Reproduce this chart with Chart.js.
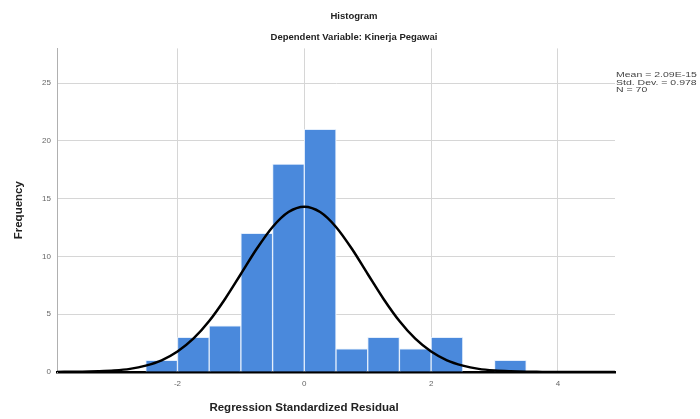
<!DOCTYPE html>
<html><head><meta charset="utf-8">
<script src="https://cdn.jsdelivr.net/npm/chart.js@4"></script>
<style>html,body{margin:0;padding:0;background:#fff;overflow:hidden}</style>
</head><body>
<canvas id="c" width="700" height="419"></canvas>
<script>
// Histogram bins (width 0.5)
const binCenters = [-2.25, -1.75, -1.25, -0.75, -0.25, 0.25, 0.75, 1.25, 1.75, 2.25, 2.75, 3.25];
const frequencies = [1, 3, 4, 12, 18, 21, 2, 3, 2, 3, 0, 1];
// Normal curve
const curveX = [-3.9, -3.5, -3.25, -3, -2.75, -2.5, -2.25, -2, -1.75, -1.5, -1.25, -1, -0.75, -0.5, -0.25, 0, 0.25, 0.5, 0.75, 1, 1.25, 1.5, 1.75, 2, 2.25, 2.5, 2.75, 3, 3.25, 3.5, 3.75, 4, 4.5, 4.9];
const curveY = [0.01, 0.02, 0.06, 0.13, 0.27, 0.55, 1.01, 1.77, 2.88, 4.41, 6.32, 8.48, 10.66, 12.55, 13.84, 14.3, 13.84, 12.55, 10.66, 8.48, 6.32, 4.41, 2.88, 1.77, 1.01, 0.55, 0.27, 0.13, 0.06, 0.02, 0.01, 0, 0, 0];
const xTicks = [-2, 0, 2, 4];
const yTicks = [0, 5, 10, 15, 20, 25];
const xTitle = "Regression Standardized Residual";
const statsLines = ["Mean = 2.09E-15", "Std. Dev. = 0.978", "N = 70"];

const FONT = "'Liberation Sans', Arial, sans-serif";
Chart.defaults.font.family = FONT;

const textPlugin = {
  id: 'texts',
  afterDraw(chart) {
    const ctx = chart.ctx;
    ctx.save();
    // x-axis title
    ctx.font = "bold 11.5px " + FONT;
    ctx.fillStyle = '#222';
    ctx.textAlign = 'center';
    ctx.textBaseline = 'middle';
    ctx.fillText(xTitle, 304, 408);
    // statistics box
    ctx.font = "7.5px " + FONT;
    ctx.fillStyle = '#444';
    ctx.textAlign = 'left';
    statsLines.forEach((t, i) => {
      ctx.save();
      ctx.translate(616, 75 + i * 7.5);
      ctx.scale(1.4, 1);
      ctx.fillText(t, 0, 0);
      ctx.restore();
    });
    ctx.restore();
  }
};

new Chart(document.getElementById('c'), {
  data: {
    datasets: [
      {
        type: 'line',
        data: curveX.map((x, i) => ({x: x, y: curveY[i]})),
        borderColor: '#000',
        borderWidth: 2.5,
        pointRadius: 0,
        cubicInterpolationMode: 'monotone',
        order: 0
      },
      {
        type: 'bar',
        data: binCenters.map((x, i) => ({x: x, y: frequencies[i]})),
        backgroundColor: '#4a89dc',
        borderColor: '#e3eefc',
        borderWidth: 1,
        barPercentage: 1,
        categoryPercentage: 1,
        order: 1
      }
    ]
  },
  options: {
    responsive: false,
    animation: false,
    layout: {padding: {left: 8, right: 0, top: 0, bottom: 0}},
    plugins: {
      legend: {display: false},
      tooltip: {enabled: false},
      title: {display: true, text: 'Histogram', color: '#222',
        font: {size: 9.5, weight: 'bold'}, padding: {top: 11, bottom: 4}},
      subtitle: {display: true, text: 'Dependent Variable: Kinerja Pegawai', color: '#222',
        font: {size: 9.5, weight: 'bold'}, padding: {top: 5, bottom: 5.6}}
    },
    scales: {
      x: {
        type: 'linear', min: -3.9, max: 4.9, offset: false,
        afterBuildTicks: s => { s.ticks = xTicks.map(v => ({value: v})); },
        afterFit: s => { s.height = 47; },
        grid: {color: '#d6d6d6', drawTicks: false, offset: false},
        border: {color: '#000', width: 2.5},
        ticks: {padding: 7, color: '#666', font: {size: 8}}
      },
      y: {
        min: 0, max: 28,
        afterBuildTicks: s => { s.ticks = yTicks.map(v => ({value: v})); },
        afterFit: s => { s.width = 49; },
        grid: {color: '#d6d6d6', drawTicks: false},
        border: {color: '#b0b0b0', width: 1},
        ticks: {padding: 6, color: '#666', font: {size: 8}},
        title: {display: true, text: 'Frequency', color: '#222',
          font: {size: 11.5, weight: 'bold'}, padding: {top: 4, bottom: 0}}
      },
      yRight: {
        position: 'right', min: 0, max: 28,
        afterFit: s => { s.width = 85; },
        grid: {display: false, drawOnChartArea: false},
        border: {display: false},
        ticks: {display: false}
      }
    }
  },
  plugins: [textPlugin]
});
</script>
</body></html>
